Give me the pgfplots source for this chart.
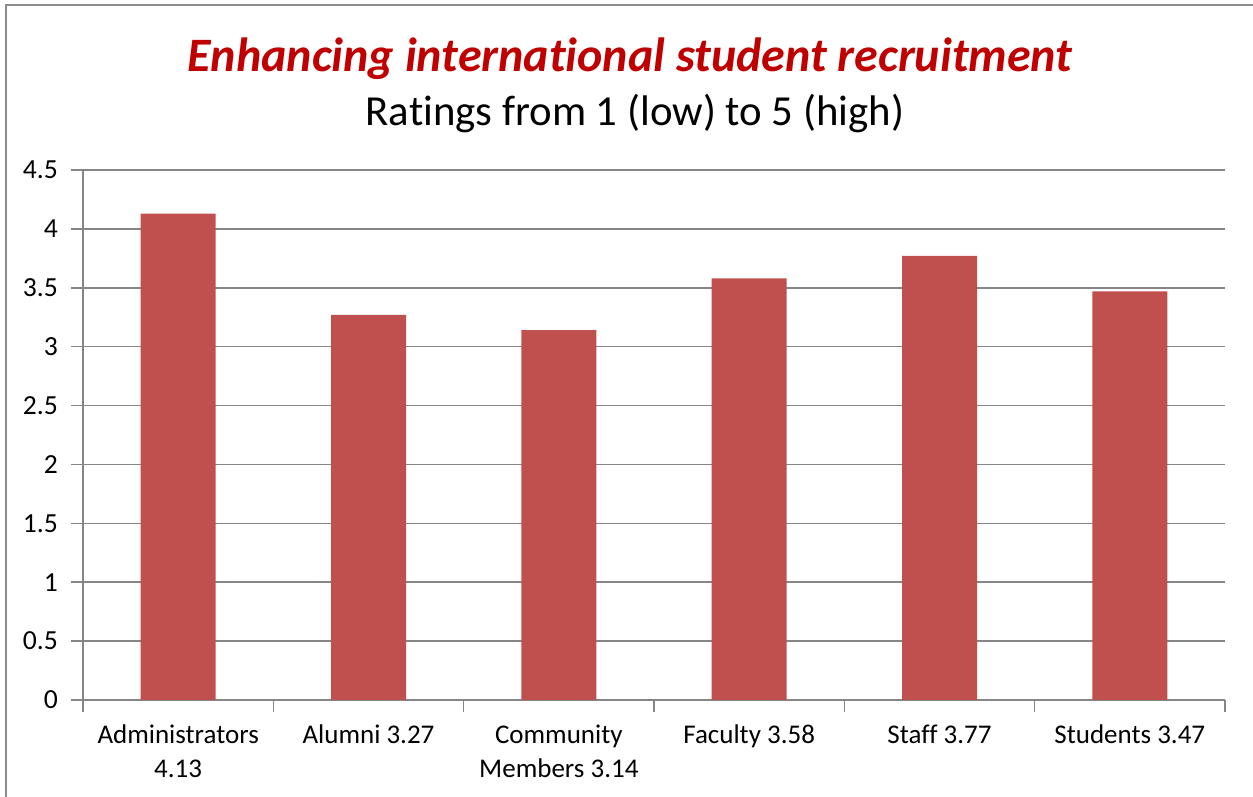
\documentclass[border=0pt]{standalone}
\usepackage{pgfplots}
\pgfplotsset{compat=1.18}
\usepackage{fontspec}
\setmainfont[Ligatures=NoCommon]{Carlito}
\definecolor{barred}{HTML}{C0504D}
\definecolor{titlered}{HTML}{C00000}
\definecolor{gridgray}{HTML}{868686}
\definecolor{framegray}{HTML}{8C8C8C}
\begin{document}
\begin{tikzpicture}
\path[use as bounding box] (0,0) rectangle (626.5pt,398.5pt);
\draw[framegray, line width=1pt] (3pt,0) -- (3pt,396pt) -- (626.5pt,396pt);
\node[font=\fontsize{24}{28}\selectfont\bfseries\itshape, text=titlered] at (315pt,369pt) {Enhancing international student recruitment};
\node[font=\fontsize{21.4}{25}\selectfont] at (317.5pt,341.5pt) {Ratings from 1 (low) to 5 (high)};
\begin{axis}[
  at={(41.5pt,48.5pt)}, anchor=south west,
  scale only axis, width=571pt, height=265pt,
  xmin=-0.5, xmax=5.5, ymin=0, ymax=4.5,
  axis x line*=bottom, axis y line*=left,
  axis line style={gridgray, line width=0.8pt, -},
  ytick={0,0.5,...,4.5},
  yticklabels={0,0.5,1,1.5,2,2.5,3,3.5,4,4.5},
  ymajorgrids, grid style={gridgray, line width=0.8pt},
  xtick={-0.5,0.5,1.5,2.5,3.5,4.5,5.5},
  xticklabels={},
  extra x ticks={0,1,2,3,4,5},
  extra x tick labels={{Administrators\\4.13},{Alumni 3.27},{Community\\Members 3.14},{Faculty 3.58},{Staff 3.77},{Students 3.47}},
  extra x tick style={major tick length=0pt, grid=none, tick label style={align=center, font=\fontsize{13.5}{17}\selectfont, anchor=north, yshift=-9pt}},
  y tick label style={font=\fontsize{13.8}{16}\selectfont, xshift=-3pt},
  /pgf/number format/assume math mode=true,
  major tick length=6pt,
  tick align=outside,
  tick style={gridgray, line width=0.8pt},
]
\addplot[ybar, bar width=37.5pt, fill=barred, draw=none] coordinates {(0,4.13) (1,3.27) (2,3.14) (3,3.58) (4,3.77) (5,3.47)};
\end{axis}
\end{tikzpicture}
\end{document}
